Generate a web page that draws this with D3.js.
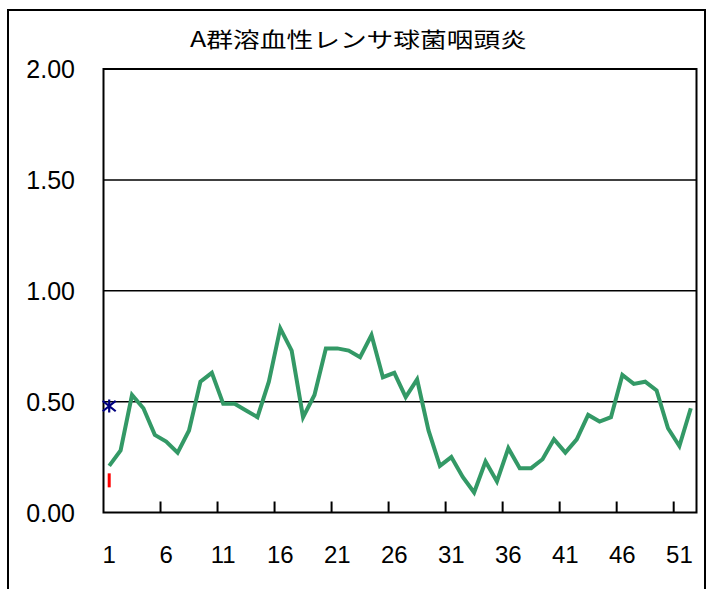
<!DOCTYPE html>
<html>
<head>
<meta charset="utf-8">
<script src="https://cdn.jsdelivr.net/npm/d3@7"></script>
<style>
  html, body { margin: 0; padding: 0; background: #fff; }
  svg { display: block; }
</style>
</head>
<body>
<svg id="chart"></svg>
<script>
// Chart data
const title = "A群溶血性レンサ球菌咽頭炎";
const weeks = d3.range(1, 53);
const values = [
  0.21, 0.28, 0.53, 0.47, 0.35, 0.32, 0.27, 0.37, 0.59, 0.63,
  0.49, 0.49, 0.46, 0.43, 0.59, 0.83, 0.73, 0.43, 0.53, 0.74,
  0.74, 0.73, 0.70, 0.80, 0.61, 0.63, 0.52, 0.60, 0.37, 0.21,
  0.25, 0.16, 0.09, 0.23, 0.14, 0.29, 0.20, 0.20, 0.24, 0.33,
  0.27, 0.33, 0.44, 0.41, 0.43, 0.62, 0.58, 0.59, 0.55, 0.38,
  0.30, 0.47
];
const starPoint = [{ week: 1, value: 0.48 }];
const barPoint = [{ week: 1, value: 0.145 }];
const yTicks = [0, 0.5, 1.0, 1.5, 2.0];
const xLabels = [1, 6, 11, 16, 21, 26, 31, 36, 41, 46, 51];

// Layout
const W = 706, H = 589;
const plot = { left: 103.5, right: 696.5, top: 69, bottom: 512.5 };

const svg = d3.select("#chart").attr("width", W).attr("height", H);

svg.append("rect")
  .attr("width", W).attr("height", H)
  .attr("fill", "#fff");

// Outer frame
svg.append("rect")
  .attr("x", 8).attr("y", 10)
  .attr("width", 697).attr("height", 620)
  .attr("fill", "none")
  .attr("stroke", "#000")
  .attr("stroke-width", 2);

// Scales
const x = d3.scaleBand()
  .domain(weeks)
  .range([plot.left, plot.right])
  .padding(0);

const y = d3.scaleLinear()
  .domain([0, 2])
  .range([plot.bottom, plot.top]);

const cx = d => x(d) + x.bandwidth() / 2;

// Gridlines
svg.append("g")
  .selectAll("line")
  .data(yTicks.filter(t => t > 0 && t < 2))
  .enter().append("line")
  .attr("x1", plot.left).attr("x2", plot.right)
  .attr("y1", d => y(d)).attr("y2", d => y(d))
  .attr("stroke", "#000")
  .attr("stroke-width", 1.5);

// Plot border
svg.append("rect")
  .attr("x", plot.left).attr("y", plot.top)
  .attr("width", plot.right - plot.left)
  .attr("height", plot.bottom - plot.top)
  .attr("fill", "none")
  .attr("stroke", "#000")
  .attr("stroke-width", 2);

// X tick marks (inside, at category boundaries every 5)
svg.append("g")
  .selectAll("line")
  .data(xLabels.filter(d => d > 1))
  .enter().append("line")
  .attr("x1", d => x(d)).attr("x2", d => x(d))
  .attr("y1", plot.bottom).attr("y2", plot.bottom - 11)
  .attr("stroke", "#000")
  .attr("stroke-width", 2);

// Y labels
svg.append("g")
  .selectAll("text")
  .data(yTicks)
  .enter().append("text")
  .attr("x", 75)
  .attr("y", d => y(d))
  .attr("dy", "0.36em")
  .attr("text-anchor", "end")
  .style("font-family", "'Liberation Sans', Arial, sans-serif")
  .style("font-size", "25px")
  .attr("fill", "#000")
  .text(d => d.toFixed(2));

// X labels
svg.append("g")
  .selectAll("text")
  .data(xLabels)
  .enter().append("text")
  .attr("x", d => cx(d))
  .attr("y", 563)
  .attr("text-anchor", "middle")
  .style("font-family", "'Liberation Sans', Arial, sans-serif")
  .style("font-size", "24px")
  .attr("fill", "#000")
  .text(d => d);

// Title
svg.append("text")
  .attr("x", 358.5)
  .attr("y", 46.5)
  .attr("text-anchor", "middle")
  .attr("textLength", 337)
  .attr("lengthAdjust", "spacingAndGlyphs")
  .style("font-family", "'Noto Sans CJK JP', sans-serif")
  .style("font-size", "21px")
  .attr("fill", "#000")
  .text(title);

// Main line
const line = d3.line()
  .x((d, i) => cx(weeks[i]))
  .y(d => y(d));

svg.append("path")
  .datum(values)
  .attr("fill", "none")
  .attr("stroke", "#339966")
  .attr("stroke-width", 4)
  .attr("stroke-linejoin", "miter")
  .attr("d", line);

// Asterisk marker (vertical bar plus an X, like Excel's star marker)
const starSymbol = {
  draw(context, size) {
    const r = Math.sqrt(size) / 2;
    context.moveTo(0, -r);
    context.lineTo(0, r);
    context.moveTo(-r, -r * 0.8);
    context.lineTo(r, r * 0.8);
    context.moveTo(-r, r * 0.8);
    context.lineTo(r, -r * 0.8);
  }
};

svg.append("g")
  .selectAll("path")
  .data(starPoint)
  .enter().append("path")
  .attr("transform", d => `translate(${cx(d.week)},${y(d.value)})`)
  .attr("d", d3.symbol().type(starSymbol).size(169))
  .attr("fill", "none")
  .attr("stroke", "#000080")
  .attr("stroke-width", 2.2);

// Red bar marker
svg.append("g")
  .selectAll("line")
  .data(barPoint)
  .enter().append("line")
  .attr("x1", d => cx(d.week)).attr("x2", d => cx(d.week))
  .attr("y1", d => y(d.value) - 7).attr("y2", d => y(d.value) + 7)
  .attr("stroke", "#ff0000")
  .attr("stroke-width", 3);
</script>
</body>
</html>
